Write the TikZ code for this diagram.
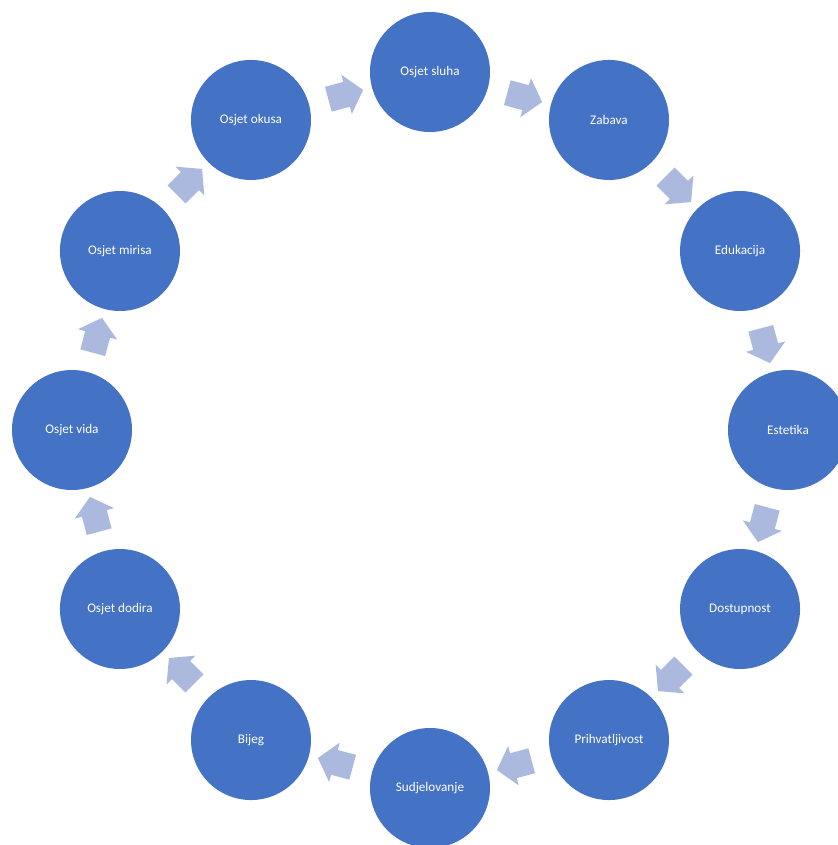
\documentclass[tikz,border=0pt]{standalone}
\usepackage{fontspec}
\setmainfont{Carlito}
\usetikzlibrary{shapes.arrows,calc}
\definecolor{circleblue}{RGB}{68, 114, 196}
\definecolor{arrowblue}{RGB}{171, 185, 222}

\begin{document}
\begin{tikzpicture}
  [
    item/.style={circle, fill=circleblue, minimum size=2.4cm, inner sep=0pt,
      text=white, font=\fontsize{7.5}{9}\selectfont},
    turn/.style={single arrow, fill=arrowblue, inner xsep=0pt, inner ysep=0.25cm,
      minimum height=0.72cm, single arrow head extend=0.15cm,
      single arrow tip angle=100}
  ]
  \useasboundingbox (-8.6, -8.3) rectangle (8.16, 8.6);

  \foreach \txt [count=\i] in {Osjet sluha, Zabava, Edukacija, Estetika,
      Dostupnost, Prihvatljivost, Sudjelovanje, Bijeg, Osjet dodira,
      Osjet vida, Osjet mirisa, Osjet okusa}
    \node[item] (c\i) at ({120-30*\i}:7.16) {\txt};

  \foreach \i [evaluate=\i as \j using {int(mod(\i,12)+1)}] in {1,...,12}
    \node[turn, rotate={15-30*\i}] (a\i) at ($(c\i)!0.5!(c\j)$) {};
\end{tikzpicture}
\end{document}
